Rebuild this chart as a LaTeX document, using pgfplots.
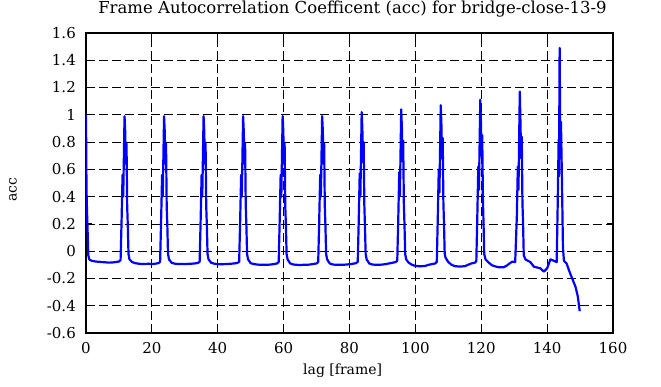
\documentclass[border=0pt]{standalone}
\usepackage{fontspec}
\setmainfont{DejaVu Serif}
\usepackage{pgfplots}
\pgfplotsset{compat=1.18}
\begin{document}
\begin{tikzpicture}
\begin{axis}[
  scale only axis,
  width=527pt, height=300pt,
  xmin=0, xmax=160, ymin=-0.6, ymax=1.6,
  xtick={0,20,...,160},
  ytick={-0.6,-0.4,-0.2,0,0.2,0.4,0.6,0.8,1,1.2,1.4,1.6},
  /pgf/number format/assume math mode=true,
  /pgf/number format/fixed,
  /pgf/number format/precision=1,
  tick align=inside,
  major tick length=6pt,
  tick style={black, line width=0.9pt},
  axis line style={black, line width=1.6pt},
  grid=major,
  major grid style={black, line width=0.8pt, dash pattern=on 9pt off 4pt},
  yticklabel style={font=\fontsize{15pt}{17pt}\selectfont, inner sep=0pt, xshift=-10pt},
  xticklabel style={font=\fontsize{15pt}{17pt}\selectfont, inner sep=0pt, yshift=-9pt},
  xlabel={lag [frame]},
  xlabel style={font=\fontsize{14pt}{16pt}\selectfont, at={(axis description cs:0.487,-0.14)}, anchor=base, inner sep=0pt},
  ylabel={acc},
  ylabel style={font=\fontsize{14pt}{16pt}\selectfont, at={(axis description cs:-0.1385,0.477)}, rotate=0, anchor=center, inner sep=0pt},
]
\addplot[blue, line width=2.2pt, line join=round] coordinates {
(0,1.00) (0.15,0.46) (0.3,0.30) (0.5,0.14) (0.7,-0.03) (1.0,-0.06) (1.5,-0.068)
(2,-0.072) (3,-0.076) (4,-0.078) (5,-0.08) (6,-0.082) (7,-0.084) (8,-0.083) (9,-0.08) (10,-0.076) (10.5,-0.065)
(10.8,0.22) (11.1,0.56) (11.3,0.40) (11.7,0.99) (11.9,0.88) (12.1,0.64) (12.3,0.79) (12.5,0.33) (12.7,0.18) (12.9,-0.02) (13.2,-0.06)
(14,-0.08) (15,-0.088) (16,-0.092) (17,-0.094) (18,-0.094) (19,-0.092) (20,-0.094) (21,-0.092) (22,-0.088) (22.5,-0.078)
(22.8,0.22) (23.1,0.56) (23.3,0.40) (23.7,0.99) (23.9,0.88) (24.1,0.64) (24.3,0.79) (24.5,0.33) (24.7,0.18) (24.9,-0.02) (25.2,-0.06)
(26,-0.085) (27,-0.092) (28,-0.094) (29,-0.094) (30,-0.095) (31,-0.093) (32,-0.092) (33,-0.09) (34,-0.086) (34.5,-0.078)
(34.8,0.22) (35.1,0.56) (35.3,0.40) (35.7,0.99) (35.9,0.88) (36.1,0.64) (36.3,0.79) (36.5,0.33) (36.7,0.18) (36.9,-0.02) (37.2,-0.06)
(38,-0.085) (39,-0.092) (40,-0.095) (41,-0.096) (42,-0.095) (43,-0.094) (44,-0.092) (45,-0.09) (46,-0.086) (46.5,-0.078)
(46.8,0.22) (47.1,0.56) (47.3,0.40) (47.7,0.99) (47.9,0.88) (48.1,0.64) (48.3,0.79) (48.5,0.33) (48.7,0.18) (48.9,-0.02) (49.2,-0.06)
(50,-0.088) (51,-0.095) (52,-0.098) (53,-0.1) (54,-0.1) (55,-0.1) (56,-0.098) (57,-0.095) (58,-0.09) (58.5,-0.08)
(58.8,0.22) (59.1,0.56) (59.3,0.40) (59.7,0.99) (59.9,0.88) (60.1,0.64) (60.3,0.79) (60.5,0.33) (60.7,0.18) (60.9,-0.02) (61.2,-0.06)
(62,-0.09) (63,-0.098) (64,-0.1) (65,-0.102) (66,-0.1) (67,-0.1) (68,-0.098) (69,-0.094) (70,-0.09) (70.5,-0.08)
(70.8,0.22) (71.1,0.56) (71.3,0.40) (71.7,0.99) (71.9,0.88) (72.1,0.64) (72.3,0.79) (72.5,0.33) (72.7,0.18) (72.9,-0.02) (73.2,-0.06)
(74,-0.09) (75,-0.098) (76,-0.1) (77,-0.1) (78,-0.1) (79,-0.098) (80,-0.096) (81,-0.092) (82,-0.088) (82.5,-0.078)
(82.8,0.22) (83.1,0.57) (83.3,0.40) (83.7,1.02) (83.9,0.90) (84.1,0.65) (84.3,0.80) (84.5,0.34) (84.7,0.18) (84.9,-0.02) (85.2,-0.06)
(86,-0.09) (87,-0.098) (88,-0.1) (89,-0.1) (90,-0.098) (91,-0.095) (92,-0.09) (93,-0.085) (94,-0.08) (94.5,-0.07)
(94.8,0.23) (95.1,0.58) (95.3,0.41) (95.7,1.04) (95.9,0.91) (96.1,0.66) (96.3,0.81) (96.5,0.35) (96.7,0.19) (96.9,-0.02) (97.2,-0.06)
(98,-0.085) (99,-0.1) (100,-0.108) (101,-0.11) (102,-0.11) (103,-0.108) (104,-0.1) (105,-0.095) (106,-0.09) (106.5,-0.08)
(106.8,0.24) (107.1,0.60) (107.3,0.43) (107.7,1.07) (107.9,0.93) (108.1,0.68) (108.3,0.83) (108.5,0.36) (108.7,0.19) (108.9,-0.02) (109.2,-0.05)
(110,-0.08) (111,-0.1) (112,-0.11) (113,-0.112) (114,-0.112) (115,-0.11) (116,-0.1) (117,-0.09) (118,-0.085) (118.5,-0.075)
(118.8,0.25) (119.1,0.62) (119.3,0.45) (119.7,1.11) (119.9,0.95) (120.1,0.70) (120.3,0.85) (120.5,0.38) (120.7,0.20) (120.9,-0.02) (121.3,-0.06)
(122.3,-0.085) (123.3,-0.104) (124.3,-0.112) (125.3,-0.118) (126.8,-0.118) (127.8,-0.105) (128.6,-0.09) (129.4,-0.077) (130.3,-0.08)
(130.8,0.25) (131.1,0.62) (131.3,0.45) (131.7,1.17) (131.9,0.95) (132.1,0.68) (132.3,0.84) (132.5,0.36) (132.7,0.20) (132.9,-0.03) (133.4,-0.06)
(134.9,-0.08) (136,-0.114) (137,-0.12) (138,-0.126) (139,-0.15) (140,-0.126) (141,-0.06) (142,-0.07) (142.9,-0.08)
(143.2,0.33) (143.5,0.82) (143.6,0.55) (143.8,1.49) (144.0,0.78) (144.2,0.95) (144.5,0.52) (144.8,0.03) (145.1,-0.07)
(145.9,-0.09) (146.6,-0.138) (147.6,-0.2) (148.6,-0.26) (149.3,-0.33) (149.9,-0.44)
};
\end{axis}
\node[anchor=base, inner sep=0pt, font=\fontsize{16.5pt}{19pt}\selectfont] at (266.5pt,319pt) {Frame Autocorrelation Coefficent (acc) for bridge-close-13-9};
\pgfresetboundingbox
\path (-86pt,-54pt) rectangle (575pt,333pt);
\end{tikzpicture}
\end{document}
